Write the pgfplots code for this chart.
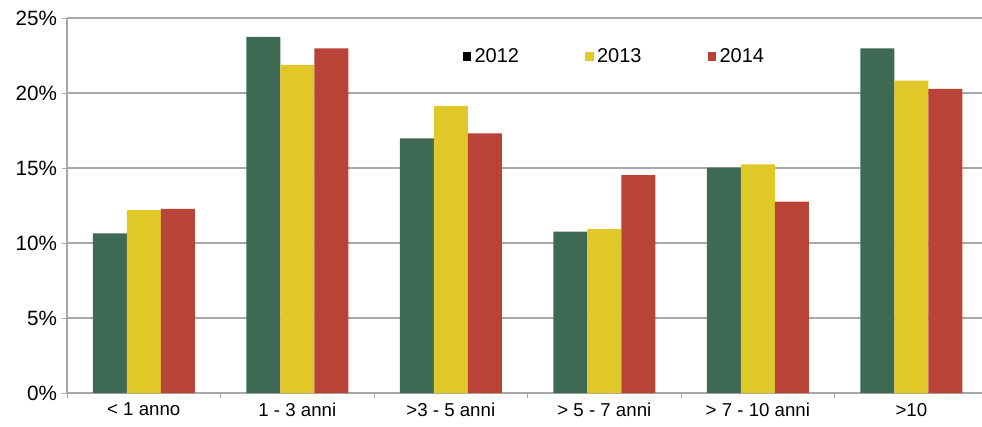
\documentclass[border=0pt]{standalone}
\usepackage{fontspec}
\setmainfont{Liberation Sans}
\usepackage{pgfplots}
\pgfplotsset{compat=1.18}

\definecolor{cgreen}{HTML}{3D6955}
\definecolor{cyellow}{HTML}{E0C829}
\definecolor{cred}{HTML}{B84336}
\definecolor{cgrid}{HTML}{A8A8A8}

\begin{document}
\begin{tikzpicture}[x=1pt,y=1pt]
\begin{axis}[
  at={(0,0)}, anchor=south west,
  scale only axis,
  width=686.25pt, height=281.25pt,
  ybar=0pt, bar width=25.5pt,
  xmin=-0.5, xmax=5.46,
  ymin=0, ymax=25,
  xtick={0,1,2,3,4,5},
  xticklabels={{< 1 anno},{1 - 3 anni},{>3 - 5 anni},{> 5 - 7 anni},{> 7 - 10 anni},{>10}},
  major x tick style={draw=none},
  minor xtick={-0.5,0.5,1.5,2.5,3.5,4.5,5.5},
  minor tick length=4pt,
  minor x tick style={cgrid},
  ytick={0,5,10,15,20,25},
  yticklabels={0\%,5\%,10\%,15\%,20\%,25\%},
  ymajorgrids,
  grid style={cgrid, line width=0.9pt},
  axis x line*=bottom, axis y line*=left,
  axis line style={cgrid, line width=0.9pt},
  major y tick style={cgrid},
  major tick length=4pt,
  tick align=outside,
  xticklabel style={font=\fontsize{14}{16}\selectfont, text=black},
  yticklabel style={font=\fontsize{15.5}{17}\selectfont, text=black, xshift=0pt},
  legend columns=3,
  legend style={at={(0.432,0.897)}, anchor=west, draw=none, fill=none,
    font=\fontsize{15}{17}\selectfont, inner xsep=0pt,
    /tikz/every even column/.append style={column sep=47pt},
    nodes={inner xsep=2.5pt}},
  legend image code/.code={\fill[#1] (0pt,-3.2pt) rectangle (6.5pt,3.2pt);},
]
\addplot[fill=cgreen, draw=none,
  legend image code/.code={\fill[black] (0pt,-3.2pt) rectangle (6.5pt,3.2pt);}]
  coordinates {(0,10.65) (1,23.75) (2,16.98) (3,10.76) (4,15.02) (5,22.98)};
\addlegendentry{2012}
\addplot[fill=cyellow, draw=none]
  coordinates {(0,12.2) (1,21.87) (2,19.15) (3,10.93) (4,15.24) (5,20.82)};
\addlegendentry{2013}
\addplot[fill=cred, draw=none]
  coordinates {(0,12.27) (1,22.98) (2,17.31) (3,14.53) (4,12.76) (5,20.27)};
\addlegendentry{2014}
\end{axis}
\draw[color=teal!25, line width=1.5pt] (-50.25pt,319pt) -- (686.25pt,319pt);
\pgfresetboundingbox
\path[use as bounding box] (-50.25pt,-24.75pt) rectangle (686.25pt,294.75pt);
\end{tikzpicture}
\end{document}
